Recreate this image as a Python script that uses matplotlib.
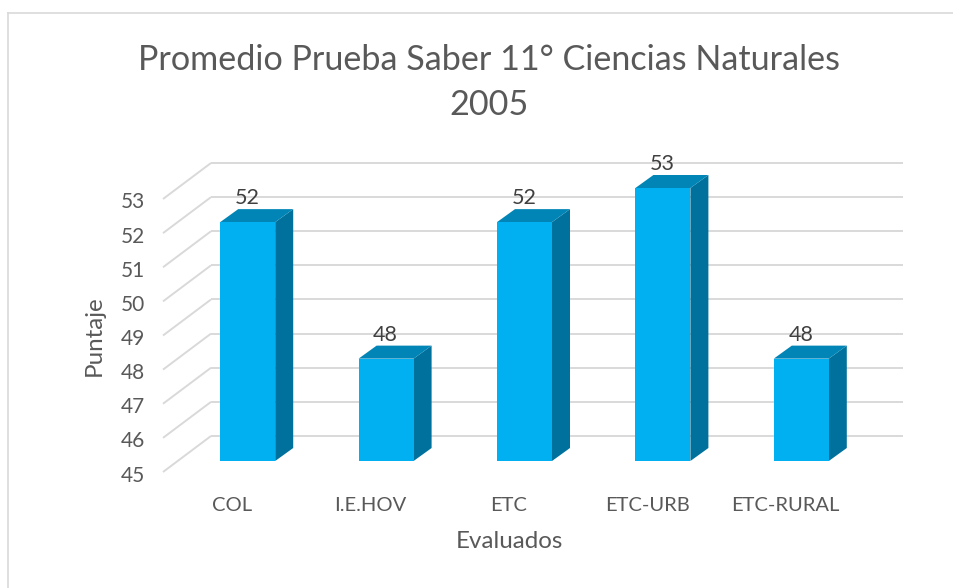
import matplotlib
matplotlib.use("Agg")
import matplotlib.pyplot as plt
from matplotlib.patches import Polygon
from matplotlib.lines import Line2D
from matplotlib.transforms import ScaledTranslation

categories = ["COL", "I.E.HOV", "ETC", "ETC-URB", "ETC-RURAL"]
values = [52, 48, 52, 53, 48]
y_ticks = [45, 46, 47, 48, 49, 50, 51, 52, 53]
title = "Promedio Prueba Saber 11° Ciencias Naturales\n2005"
x_label = "Evaluados"
y_label = "Puntaje"

W, H = 954, 588
plt.rcParams['font.family'] = ['Lato', 'DejaVu Sans']
fig = plt.figure(figsize=(W / 100, H / 100), dpi=100, facecolor="white")

L, R, T, B = 163, 855, 199, 472
ax = fig.add_axes([L / W, 1 - B / H, (R - L) / W, (B - T) / H])
ax.set_xlim(-0.5, 4.5)
ax.set_ylim(45, 53)
ax.patch.set_alpha(0)
for s in ax.spines.values():
    s.set_visible(False)

ux = (R - L) / 5            # px per category
uy = (B - T) / 8            # px per value unit
wall_dx, wall_dy = 48 / ux, 36 / uy
plane_dx, plane_dy = 15.5 / ux, 11 / uy
bar_w = 55 / ux
depth_dx, depth_dy = 18 / ux, 13 / uy

GRID = "#d9d9d9"
for v in y_ticks:
    ax.plot([-0.5, -0.5 + wall_dx], [v, v + wall_dy], color=GRID, lw=1.4,
            clip_on=False, zorder=1, solid_capstyle="butt")
    ax.plot([-0.5 + wall_dx, 4.5 + wall_dx], [v + wall_dy, v + wall_dy], color=GRID,
            lw=1.4, clip_on=False, zorder=1, solid_capstyle="butt")

for i, v in enumerate(values):
    x0 = i + plane_dx - bar_w / 2
    x1 = x0 + bar_w
    y0 = 45 + plane_dy
    y1 = v + plane_dy
    ax.add_patch(Polygon([(x1, y0), (x1 + depth_dx, y0 + depth_dy),
                          (x1 + depth_dx, y1 + depth_dy), (x1, y1)],
                         closed=True, fc="#00719c", ec="none", clip_on=False, zorder=3))
    ax.add_patch(Polygon([(x0, y1), (x1, y1), (x1 + depth_dx, y1 + depth_dy),
                          (x0 + depth_dx, y1 + depth_dy)],
                         closed=True, fc="#0085b6", ec="none", clip_on=False, zorder=3))
    ax.add_patch(Polygon([(x0, y0), (x1, y0), (x1, y1), (x0, y1)],
                         closed=True, fc="#00b0f0", ec="none", clip_on=False, zorder=4))
    ax.annotate(str(v), (i + plane_dx, y1), xytext=(-0.5, 14), textcoords="offset pixels",
                ha="center", va="bottom", fontsize=15.5, color="#404040",
                annotation_clip=False, zorder=5)

ax.set_xticks(range(len(categories)), categories)
ax.set_yticks(y_ticks)
ax.tick_params(axis="both", length=0, labelsize=14.5, labelcolor="#595959")
ax.tick_params(axis="x", pad=18)
ax.tick_params(axis="y", pad=13, labelsize=15)
shift = ScaledTranslation(0, -1.5 / 100, fig.dpi_scale_trans)
for lab in ax.get_yticklabels():
    lab.set_transform(lab.get_transform() + shift)
ax.set_xlabel(x_label, fontsize=17.4, color="#595959", labelpad=12)
ax.set_ylabel(y_label, fontsize=17.4, color="#595959", labelpad=11.5)

fig.text(489 / W, 1 - 82.5 / H, title, ha="center", va="center", fontsize=24.6,
         color="#595959", linespacing=1.52)

fig.add_artist(Line2D([8 / W, 1], [1 - 12.5 / H, 1 - 12.5 / H], color=GRID, lw=1.2))
fig.add_artist(Line2D([8 / W, 8 / W], [0, 1 - 12.5 / H], color=GRID, lw=1.2))

fig.savefig("out.png", dpi=100, facecolor="white")
